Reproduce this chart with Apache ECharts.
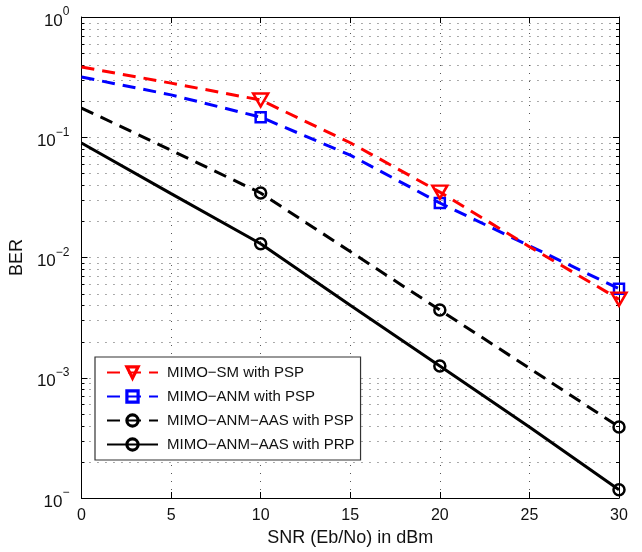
<!DOCTYPE html>
<html><head><meta charset="utf-8">
<script src="https://cdn.jsdelivr.net/npm/echarts@6/dist/echarts.min.js"></script>
<style>html,body{margin:0;padding:0;background:#fff}#c{width:642px;height:552px}</style>
</head><body><div id="c"></div>
<script>
// ---- data ----
const snr = [0, 5, 10, 15, 20, 25, 30];
const markedSnr = [10, 20, 30];
const berSmPsp  = [0.384, 0.282, 0.204, 0.090, 0.035, 0.0123, 0.0045];
const berAnmPsp = [0.317, 0.225, 0.147, 0.071, 0.0284, 0.0125, 0.0055];
const berAasPsp = [0.175, 0.078, 0.0344, 0.0112, 0.00366, 0.0012, 0.00039];
const berAasPrp = [0.0896, 0.034, 0.0130, 0.0040, 0.00125, 0.00039, 0.000117];
const seriesNames = ['MIMO\u2212SM with PSP', 'MIMO\u2212ANM with PSP', 'MIMO\u2212ANM\u2212AAS with PSP', 'MIMO\u2212ANM\u2212AAS with PRP'];
const xName = 'SNR (Eb/No) in dBm';
const yName = 'BER';
const yTickBase = '10';
const yTickExponents = { '-4': '\u2212', '-3': '\u22123', '-2': '\u22122', '-1': '\u22121', '0': '0' };
const decades = [1e-4, 1e-3, 1e-2, 1e-1];
const minorMultipliers = [2, 3, 4, 5, 6, 7, 8, 9];

// ---- build ----
const minorGrid = [];
decades.forEach(d => minorMultipliers.forEach(m => minorGrid.push([0, d * m])));
function mk(arr) {
  return snr.map((x, i) => markedSnr.includes(x) ? [x, arr[i]] : { value: [x, arr[i]], symbol: 'none' });
}
const FONT = 'Liberation Sans';
const DOT = '#555';
const dotted = { color: DOT, width: 1, type: [1, 7] };

const chart = echarts.init(document.getElementById('c'), null, { renderer: 'canvas' });
chart.setOption({
  animation: false,
  backgroundColor: '#fff',
  textStyle: { fontFamily: FONT },
  grid: { left: 79, right: 23, top: 17, bottom: 54, containLabel: false },
  legend: {
    data: seriesNames,
    orient: 'vertical',
    left: 95, top: 357,
    padding: [8, 6, 8, 11],
    itemWidth: 51, itemHeight: 14, itemGap: 9,
    backgroundColor: '#fff',
    borderColor: '#333', borderWidth: 1.2, borderRadius: 0,
    itemStyle: { borderWidth: 3.2 },
    textStyle: { fontFamily: FONT, fontSize: 15, color: '#111', padding: [0, 0, 0, 4] },
    selectedMode: false
  },
  xAxis: [{
    type: 'value', min: 0, max: 30, interval: 5,
    name: xName, nameLocation: 'middle', nameGap: 30,
    nameTextStyle: { fontFamily: FONT, fontSize: 18, color: '#111' },
    axisLine: { show: true, lineStyle: { color: '#000', width: 1 } },
    axisTick: { show: true, inside: true, length: 6, lineStyle: { color: '#000' } },
    axisLabel: { fontFamily: FONT, fontSize: 16, color: '#111', margin: 10 },
    splitLine: { show: true, lineStyle: dotted }
  }, {
    type: 'value', min: 0, max: 30, interval: 5, position: 'top',
    axisLine: { show: true, onZero: false, lineStyle: { color: '#000', width: 1 } },
    axisTick: { show: true, inside: true, length: 6, lineStyle: { color: '#000' } },
    axisLabel: { show: false }, splitLine: { show: false }
  }],
  yAxis: [{
    type: 'log', logBase: 10, min: 1e-4, max: 1, splitNumber: 4,
    name: yName, nameLocation: 'middle', nameGap: 55, nameRotate: 90,
    nameTextStyle: { fontFamily: FONT, fontSize: 18, color: '#111' },
    axisLine: { show: true, lineStyle: { color: '#000', width: 1 } },
    axisTick: { show: true, inside: true, length: 6, lineStyle: { color: '#000' } },
    axisLabel: {
      margin: 12, color: '#111',
      formatter: v => {
        const e = String(Math.round(Math.log10(v)));
        return '{b|' + yTickBase + '}{s|' + yTickExponents[e] + '}';
      },
      rich: {
        b: { fontFamily: FONT, fontSize: 17, color: '#111', padding: [8, 0, 0, 0] },
        s: { fontFamily: FONT, fontSize: 12, color: '#111', padding: [0, 0, 10, 0] }
      }
    },
    splitLine: { show: true, lineStyle: dotted }
  }, {
    type: 'log', logBase: 10, min: 1e-4, max: 1, splitNumber: 4, position: 'right',
    axisLine: { show: true, onZero: false, lineStyle: { color: '#000', width: 1 } },
    axisTick: { show: true, inside: true, length: 6, lineStyle: { color: '#000' } },
    axisLabel: { show: false }, splitLine: { show: false }
  }],
  series: [
    {
      type: 'custom', silent: true, z: 1, xAxisIndex: 0, yAxisIndex: 0,
      data: minorGrid, encode: { x: 0, y: 1 }, clip: false,
      renderItem: (params, api) => {
        const cs = params.coordSys;
        const y = Math.round(api.coord([0, api.value(1)])[1]) + 0.5;
        return { type: 'group', children: [
          { type: 'line', shape: { x1: cs.x, y1: y, x2: cs.x + cs.width, y2: y }, style: { stroke: DOT, lineWidth: 1, lineDash: [1, 7] } },
          { type: 'line', shape: { x1: cs.x, y1: y, x2: cs.x + 3, y2: y }, style: { stroke: '#000', lineWidth: 1 } },
          { type: 'line', shape: { x1: cs.x + cs.width - 3, y1: y, x2: cs.x + cs.width, y2: y }, style: { stroke: '#000', lineWidth: 1 } }
        ] };
      }
    },
    {
      name: seriesNames[0], type: 'line', data: mk(berSmPsp), z: 5, clip: false, showAllSymbol: true,
      symbol: 'triangle', symbolRotate: 180, symbolSize: [15, 13],
      lineStyle: { color: '#ff0000', width: 3, type: [13, 8] },
      itemStyle: { color: 'rgba(0,0,0,0)', borderColor: '#ff0000', borderWidth: 2.5 }
    },
    {
      name: seriesNames[1], type: 'line', data: mk(berAnmPsp), z: 4, clip: false, showAllSymbol: true,
      symbol: 'rect', symbolSize: 10,
      lineStyle: { color: '#0000ff', width: 3, type: [13, 8] },
      itemStyle: { color: 'rgba(0,0,0,0)', borderColor: '#0000ff', borderWidth: 2.5 }
    },
    {
      name: seriesNames[2], type: 'line', data: mk(berAasPsp), z: 4, clip: false, showAllSymbol: true,
      symbol: 'circle', symbolSize: 11,
      lineStyle: { color: '#000', width: 3, type: [13, 8] },
      itemStyle: { color: 'rgba(0,0,0,0)', borderColor: '#000', borderWidth: 2.5 }
    },
    {
      name: seriesNames[3], type: 'line', data: mk(berAasPrp), z: 4, clip: false, showAllSymbol: true,
      symbol: 'circle', symbolSize: 11,
      lineStyle: { color: '#000', width: 3, type: 'solid' },
      itemStyle: { color: 'rgba(0,0,0,0)', borderColor: '#000', borderWidth: 2.5 }
    }
  ]
});
</script></body></html>
